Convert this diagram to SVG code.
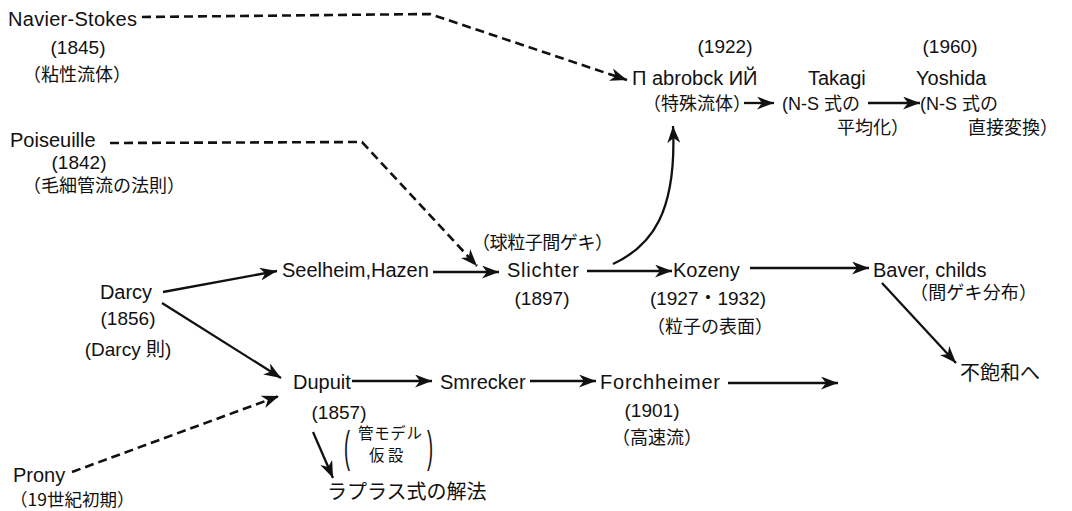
<svg xmlns="http://www.w3.org/2000/svg" width="1072" height="511" viewBox="0 0 1072 511">
<style>
text{font-family:"Liberation Sans","Noto Sans CJK JP",sans-serif;fill:#111}
.t{font-size:20px}
.y{font-size:19px}
.j{font-size:18px;font-family:"Noto Sans CJK JP",sans-serif}
.m{font-size:18px}
.c{text-anchor:middle}
.ln{fill:none;stroke:#111;stroke-width:2.3}
.d{stroke-dasharray:9 5;stroke-width:2.6}
</style>
<defs>
<marker id="ah" markerUnits="userSpaceOnUse" markerWidth="18" markerHeight="13" refX="17" refY="6.5" orient="auto">
<path d="M0,0 L17,6.5 L0,13 L5,6.5 z" fill="#111"/>
</marker>
</defs>
<rect width="1072" height="511" fill="#fff"/>

<g id="navier-stokes">
<text class="t" x="8" y="26" textLength="129">Navier-Stokes</text>
<text class="y c" x="78" y="54">(1845)</text>
<text class="j c" x="77" y="81">（粘性流体）</text>
</g>
<g id="pavlovsky">
<text class="y c" x="725" y="53">(1922)</text>
<text class="t" x="632" y="85">Π abrobck ИЙ</text>
<text class="j" x="643" y="110">（特殊流体）</text>
</g>
<g id="takagi">
<text class="t" x="808" y="85">Takagi</text>
<text class="m" x="782" y="110">(N-S 式の</text>
<text class="j" x="837" y="134">平均化）</text>
</g>
<g id="yoshida">
<text class="y c" x="950" y="53">(1960)</text>
<text class="t" x="916" y="85">Yoshida</text>
<text class="m" x="920" y="110">(N-S 式の</text>
<text class="j" x="968" y="134">直接変換）</text>
</g>
<g id="poiseuille">
<text class="t" x="10" y="147">Poiseuille</text>
<text class="y c" x="79" y="169">(1842)</text>
<text class="j" x="23" y="192">（毛細管流の法則）</text>
</g>
<g id="seelheim-hazen">
<text class="t" x="282" y="277">Seelheim,Hazen</text>
</g>
<g id="slichter">
<text class="j" x="472" y="249" textLength="141">（球粒子間ゲキ）</text>
<text class="t" x="507" y="277" textLength="72">Slichter</text>
<text class="y c" x="542" y="305">(1897)</text>
</g>
<g id="kozeny">
<text class="t" x="673" y="277">Kozeny</text>
<text class="y c" x="708" y="305">(1927・1932)</text>
<text class="j c" x="710" y="333">（粒子の表面）</text>
</g>
<g id="baver-childs">
<text class="t" x="873" y="277">Baver, childs</text>
<text class="j" x="910" y="299" textLength="127">（間ゲキ分布）</text>
</g>
<g id="unsaturated">
<text class="j" x="960" y="380" style="font-size:20px">不飽和へ</text>
</g>
<g id="darcy">
<text class="t c" x="126" y="299">Darcy</text>
<text class="y c" x="128" y="325">(1856)</text>
<text class="y c" x="128" y="356">(Darcy 則)</text>
</g>
<g id="dupuit">
<text class="t" x="293" y="389">Dupuit</text>
<text class="y c" x="339" y="419">(1857)</text>
<text transform="translate(344,462) scale(1.3,3.2)" style="font-size:14px">(</text>
<text class="j" x="358" y="439" style="font-size:15.5px" textLength="64">管モデル</text>
<text class="j" x="369" y="461" style="font-size:15.5px">仮 設</text>
<text transform="translate(427,462) scale(1.3,3.2)" style="font-size:14px">)</text>
</g>
<g id="smrecker">
<text class="t" x="440" y="389">Smrecker</text>
</g>
<g id="forchheimer">
<text class="t" x="600" y="389" textLength="120">Forchheimer</text>
<text class="y c" x="652" y="417">(1901)</text>
<text class="j c" x="657" y="444">（高速流）</text>
</g>
<g id="laplace">
<text class="j" x="327" y="499" style="font-size:20px">ラプラス式の解法</text>
</g>
<g id="prony">
<text class="t" x="13" y="482">Prony</text>
<text class="j" x="10" y="506" style="font-size:17.5px">（19世紀初期）</text>
</g>

<g id="connectors">
<path class="ln d" d="M142,17 L430,14 L627,80" marker-end="url(#ah)"/>
<path class="ln d" d="M110,143 L362,142 L477,266" marker-end="url(#ah)"/>
<path class="ln d" d="M72,472 L279,396" marker-end="url(#ah)"/>
<path class="ln" d="M613,264 C652,246 677,212 673,126" marker-end="url(#ah)"/>
<path class="ln" d="M744,103 L774,103" marker-end="url(#ah)"/>
<path class="ln" d="M868,103 L920,103" marker-end="url(#ah)"/>
<path class="ln" d="M163,292 L277,271" marker-end="url(#ah)"/>
<path class="ln" d="M162,303 L281,378" marker-end="url(#ah)"/>
<path class="ln" d="M433,272 L499,272" marker-end="url(#ah)"/>
<path class="ln" d="M587,271 L672,271" marker-end="url(#ah)"/>
<path class="ln" d="M750,268 L869,268" marker-end="url(#ah)"/>
<path class="ln" d="M882,283 L956,363" marker-end="url(#ah)"/>
<path class="ln" d="M352,381 L432,381" marker-end="url(#ah)"/>
<path class="ln" d="M530,381 L596,381" marker-end="url(#ah)"/>
<path class="ln" d="M728,383 L838,383" marker-end="url(#ah)"/>
<path class="ln" d="M313,432 L333,478" marker-end="url(#ah)"/>
</g>
</svg>
